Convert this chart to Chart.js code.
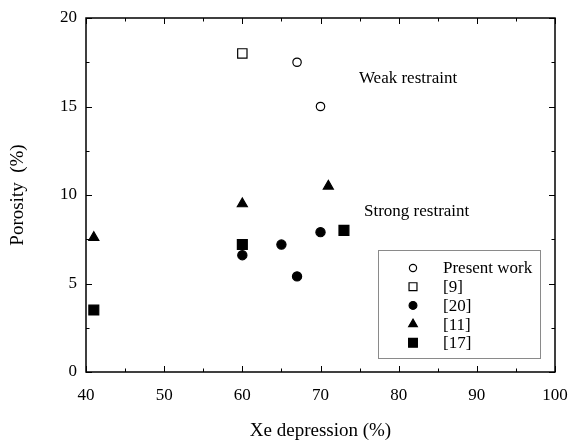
<!DOCTYPE html>
<html>
<head>
<meta charset="utf-8">
<script src="https://cdn.jsdelivr.net/npm/chart.js@4/dist/chart.umd.min.js"></script>
<style>
  html, body { margin: 0; padding: 0; background: #fff; }
  #wrap { width: 570px; height: 442px; }
</style>
</head>
<body>
<div id="wrap"><canvas id="porosityChart" width="570" height="442"></canvas></div>
<script>
// data
const presentWorkX = [67, 70];
const presentWorkY = [17.5, 15.0];
const ref9X = [60];
const ref9Y = [18.0];
const ref20X = [60, 65, 67, 70];
const ref20Y = [6.6, 7.2, 5.4, 7.9];
const ref11X = [41, 60, 71];
const ref11Y = [7.6, 9.5, 10.5];
const ref17X = [41, 60, 73];
const ref17Y = [3.5, 7.2, 8.0];

const xMajorTicks = [40, 50, 60, 70, 80, 90, 100];
const xMinorTicks = [45, 55, 65, 75, 85, 95];
const yMajorTicks = [0, 5, 10, 15, 20];
const yMinorTicks = [2.5, 7.5, 12.5, 17.5];

const noteTexts = ["Weak restraint", "Strong restraint"];
const noteX = [81.2, 82.3];
const noteY = [16.6, 9.05];

const FONT = "'Liberation Serif', 'Times New Roman', serif";

const toPoints = (xs, ys) => xs.map((x, i) => ({ x: x, y: ys[i] }));

const seriesDefs = [
    { label: "Present work", data: toPoints(presentWorkX, presentWorkY), style: "circle", fill: "#fff", r: 4.2, lr: 3.6 },
    { label: "[9]", data: toPoints(ref9X, ref9Y), style: "rect", fill: "#fff", r: 6.6, lr: 5.6 },
    { label: "[20]", data: toPoints(ref20X, ref20Y), style: "circle", fill: "#000", r: 4.6, lr: 3.9 },
    { label: "[11]", data: toPoints(ref11X, ref11Y), style: "triangle", fill: "#000", r: 5.8, lr: 5.0 },
    { label: "[17]", data: toPoints(ref17X, ref17Y), style: "rect", fill: "#000", r: 7.0, lr: 6.2 }
];

// frame, inward ticks on all sides, notes and the inset legend
const framePlugin = {
    id: "frame",
    afterDatasetsDraw(chart) {
        const { ctx, chartArea: a, scales } = chart;
        const xs = scales.x, ys = scales.y;
        ctx.save();
        ctx.strokeStyle = "#000";
        ctx.lineWidth = 1.5;
        ctx.strokeRect(a.left, a.top, a.right - a.left, a.bottom - a.top);
        ctx.lineWidth = 1;
        ctx.beginPath();
        const tickX = (vals, len) => vals.forEach(v => {
            const px = Math.round(xs.getPixelForValue(v)) + 0.5;
            ctx.moveTo(px, a.bottom); ctx.lineTo(px, a.bottom - len);
            ctx.moveTo(px, a.top); ctx.lineTo(px, a.top + len);
        });
        const tickY = (vals, len) => vals.forEach(v => {
            const py = Math.round(ys.getPixelForValue(v)) + 0.5;
            ctx.moveTo(a.left, py); ctx.lineTo(a.left + len, py);
            ctx.moveTo(a.right, py); ctx.lineTo(a.right - len, py);
        });
        tickX(xMajorTicks, 6); tickX(xMinorTicks, 3.5);
        tickY(yMajorTicks, 6); tickY(yMinorTicks, 3.5);
        ctx.stroke();

        // text notes
        ctx.fillStyle = "#000";
        ctx.font = "17px " + FONT;
        ctx.textAlign = "center";
        ctx.textBaseline = "middle";
        noteTexts.forEach((t, i) => {
            ctx.fillText(t, xs.getPixelForValue(noteX[i]), ys.getPixelForValue(noteY[i]));
        });

        // legend box
        const bx = 378.5, by = 250.5, bw = 162, bh = 108;
        ctx.strokeStyle = "#8a8a8a";
        ctx.lineWidth = 1;
        ctx.strokeRect(bx, by, bw, bh);
        ctx.textAlign = "left";
        ctx.font = "17px " + FONT;
        seriesDefs.forEach((s, i) => {
            const cy = 268 + i * 18.7;
            ctx.fillStyle = s.fill;
            ctx.strokeStyle = "#000";
            ctx.lineWidth = 1.2;
            Chart.helpers.drawPoint(ctx, { pointStyle: s.style, radius: s.lr, rotation: 0, borderWidth: 1.2 }, 413, cy);
            ctx.fillStyle = "#000";
            ctx.fillText(s.label, 443, cy + 1);
        });
        ctx.restore();
    }
};

const ctx = document.getElementById("porosityChart").getContext("2d");

new Chart(ctx, {
    type: "scatter",
    data: {
        datasets: seriesDefs.map(s => ({
            label: s.label,
            data: s.data,
            pointStyle: s.style,
            pointRadius: s.r,
            pointHoverRadius: s.r,
            pointBackgroundColor: s.fill,
            pointBorderColor: "#000",
            pointBorderWidth: 1.2,
            showLine: false
        }))
    },
    options: {
        responsive: false,
        animation: false,
        events: [],
        layout: { padding: { left: 0, top: 18, right: 15, bottom: 0 } },
        plugins: {
            legend: { display: false },
            tooltip: { enabled: false }
        },
        scales: {
            x: {
                type: "linear",
                min: 40,
                max: 100,
                afterFit: scale => {
                    scale.height = 70;
                    scale.paddingLeft = 0;
                    scale.paddingRight = 0;
                },
                ticks: { stepSize: 10, color: "#000", font: { family: FONT, size: 17 }, padding: 13, maxRotation: 0 },
                grid: { display: false, drawTicks: false, tickLength: 0 },
                border: { display: false },
                title: { display: true, text: "Xe depression (%)", color: "#000", font: { family: FONT, size: 19 }, padding: { top: 0, bottom: 0 } }
            },
            y: {
                type: "linear",
                min: 0,
                max: 20,
                afterFit: scale => {
                    scale.width = 86;
                    scale.paddingTop = 0;
                    scale.paddingBottom = 0;
                },
                ticks: { stepSize: 5, color: "#000", font: { family: FONT, size: 17 }, padding: 9 },
                grid: { display: false, drawTicks: false, tickLength: 0 },
                border: { display: false },
                title: { display: true, text: "Porosity  (%)", color: "#000", font: { family: FONT, size: 19 }, padding: { top: 7, bottom: 0 } }
            }
        }
    },
    plugins: [framePlugin]
});
</script>
</body>
</html>
